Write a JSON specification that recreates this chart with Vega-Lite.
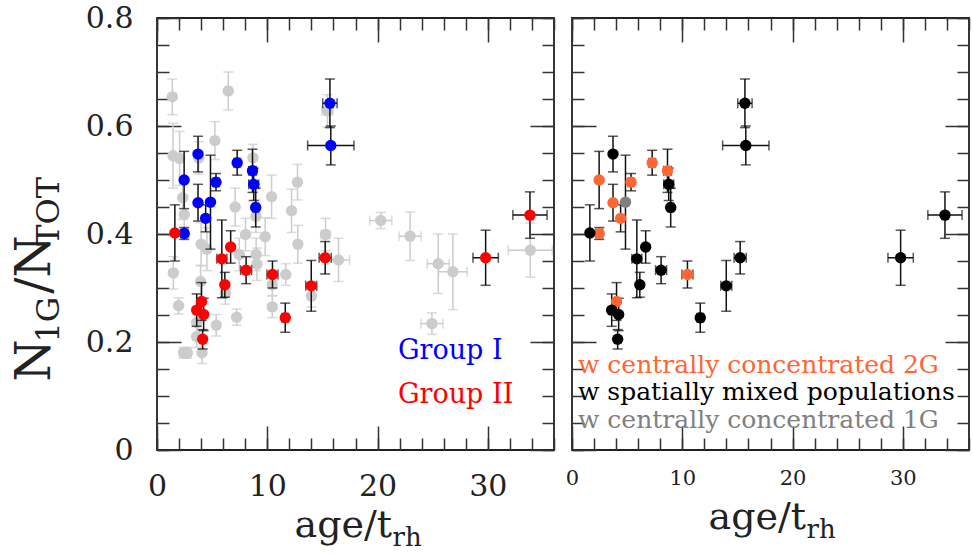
{
  "$schema": "https://vega.github.io/schema/vega-lite/v6.json",
  "background": "white",
  "padding": {"left": 10, "top": 2, "right": 5, "bottom": 5},
  "spacing": -4,
  "datasets": {
    "members": [
      {"age": 15.68, "age_err": 0.65, "ratio": 0.642, "ratio_err": 0.045, "group": "Group I", "dist": "w spatially mixed populations"},
      {"age": 15.76, "age_err": 2.1, "ratio": 0.564, "ratio_err": 0.036, "group": "Group I", "dist": "w spatially mixed populations"},
      {"age": 3.72, "age_err": 0, "ratio": 0.548, "ratio_err": 0.033, "group": "Group I", "dist": "w spatially mixed populations"},
      {"age": 7.27, "age_err": 0.3, "ratio": 0.532, "ratio_err": 0.023, "group": "Group I", "dist": "w centrally concentrated 2G"},
      {"age": 8.66, "age_err": 0.35, "ratio": 0.517, "ratio_err": 0.04, "group": "Group I", "dist": "w centrally concentrated 2G"},
      {"age": 2.46, "age_err": 0, "ratio": 0.5, "ratio_err": 0.053, "group": "Group I", "dist": "w centrally concentrated 2G"},
      {"age": 5.35, "age_err": 0.25, "ratio": 0.496, "ratio_err": 0.016, "group": "Group I", "dist": "w centrally concentrated 2G"},
      {"age": 8.77, "age_err": 0.45, "ratio": 0.492, "ratio_err": 0.03, "group": "Group I", "dist": "w spatially mixed populations"},
      {"age": 3.72, "age_err": 0, "ratio": 0.458, "ratio_err": 0.034, "group": "Group I", "dist": "w centrally concentrated 2G"},
      {"age": 4.85, "age_err": 0, "ratio": 0.459, "ratio_err": 0.087, "group": "Group I", "dist": "w centrally concentrated 1G"},
      {"age": 8.95, "age_err": 0.25, "ratio": 0.449, "ratio_err": 0.036, "group": "Group I", "dist": "w spatially mixed populations"},
      {"age": 4.41, "age_err": 0, "ratio": 0.429, "ratio_err": 0.025, "group": "Group I", "dist": "w centrally concentrated 2G"},
      {"age": 2.47, "age_err": 0.3, "ratio": 0.401, "ratio_err": 0.011, "group": "Group I", "dist": "w centrally concentrated 2G"},
      {"age": 1.62, "age_err": 0, "ratio": 0.402, "ratio_err": 0.052, "group": "Group II", "dist": "w spatially mixed populations"},
      {"age": 6.68, "age_err": 0, "ratio": 0.376, "ratio_err": 0.03, "group": "Group II", "dist": "w spatially mixed populations"},
      {"age": 5.88, "age_err": 0.45, "ratio": 0.354, "ratio_err": 0.072, "group": "Group II", "dist": "w spatially mixed populations"},
      {"age": 8.08, "age_err": 0.5, "ratio": 0.333, "ratio_err": 0.025, "group": "Group II", "dist": "w spatially mixed populations"},
      {"age": 10.47, "age_err": 0.5, "ratio": 0.325, "ratio_err": 0.025, "group": "Group II", "dist": "w centrally concentrated 2G"},
      {"age": 15.25, "age_err": 0.55, "ratio": 0.356, "ratio_err": 0.03, "group": "Group II", "dist": "w spatially mixed populations"},
      {"age": 6.15, "age_err": 0, "ratio": 0.306, "ratio_err": 0.023, "group": "Group II", "dist": "w spatially mixed populations"},
      {"age": 13.99, "age_err": 0.5, "ratio": 0.304, "ratio_err": 0.047, "group": "Group II", "dist": "w spatially mixed populations"},
      {"age": 4.04, "age_err": 0, "ratio": 0.275, "ratio_err": 0.035, "group": "Group II", "dist": "w centrally concentrated 2G"},
      {"age": 3.6, "age_err": 0, "ratio": 0.259, "ratio_err": 0.03, "group": "Group II", "dist": "w spatially mixed populations"},
      {"age": 4.23, "age_err": 0, "ratio": 0.251, "ratio_err": 0.03, "group": "Group II", "dist": "w spatially mixed populations"},
      {"age": 4.14, "age_err": 0, "ratio": 0.205, "ratio_err": 0.018, "group": "Group II", "dist": "w spatially mixed populations"},
      {"age": 11.63, "age_err": 0.3, "ratio": 0.245, "ratio_err": 0.027, "group": "Group II", "dist": "w spatially mixed populations"},
      {"age": 29.8, "age_err": 1.15, "ratio": 0.356, "ratio_err": 0.051, "group": "Group II", "dist": "w spatially mixed populations"},
      {"age": 33.82, "age_err": 1.55, "ratio": 0.435, "ratio_err": 0.043, "group": "Group II", "dist": "w spatially mixed populations"}
    ],
    "others": [
      {"age": 1.39, "age_err": 0, "ratio": 0.654, "ratio_err": 0.033},
      {"age": 6.46, "age_err": 0, "ratio": 0.665, "ratio_err": 0.035},
      {"age": 1.45, "age_err": 0, "ratio": 0.545, "ratio_err": 0.06},
      {"age": 2.05, "age_err": 0, "ratio": 0.54, "ratio_err": 0.05},
      {"age": 5.25, "age_err": 0, "ratio": 0.573, "ratio_err": 0.035},
      {"age": 3.78, "age_err": 0, "ratio": 0.541, "ratio_err": 0.03},
      {"age": 8.7, "age_err": 0, "ratio": 0.541, "ratio_err": 0.025},
      {"age": 15.46, "age_err": 0.5, "ratio": 0.628, "ratio_err": 0.03},
      {"age": 2.33, "age_err": 0, "ratio": 0.467, "ratio_err": 0.04},
      {"age": 2.47, "age_err": 0, "ratio": 0.436, "ratio_err": 0.035},
      {"age": 7.09, "age_err": 0, "ratio": 0.45, "ratio_err": 0.035},
      {"age": 10.39, "age_err": 0, "ratio": 0.469, "ratio_err": 0.04},
      {"age": 12.2, "age_err": 0, "ratio": 0.443, "ratio_err": 0.04},
      {"age": 12.74, "age_err": 0, "ratio": 0.496, "ratio_err": 0.033},
      {"age": 15.28, "age_err": 0.4, "ratio": 0.399, "ratio_err": 0.03},
      {"age": 16.46, "age_err": 1.0, "ratio": 0.352, "ratio_err": 0.04},
      {"age": 4.0, "age_err": 0, "ratio": 0.381, "ratio_err": 0.04},
      {"age": 4.53, "age_err": 0, "ratio": 0.372, "ratio_err": 0.04},
      {"age": 8.03, "age_err": 0, "ratio": 0.399, "ratio_err": 0.03},
      {"age": 9.81, "age_err": 0, "ratio": 0.395, "ratio_err": 0.035},
      {"age": 8.99, "age_err": 0, "ratio": 0.362, "ratio_err": 0.03},
      {"age": 9.06, "age_err": 0, "ratio": 0.344, "ratio_err": 0.03},
      {"age": 12.77, "age_err": 0, "ratio": 0.381, "ratio_err": 0.035},
      {"age": 8.97, "age_err": 0, "ratio": 0.433, "ratio_err": 0.03},
      {"age": 1.48, "age_err": 0, "ratio": 0.328, "ratio_err": 0.03},
      {"age": 1.96, "age_err": 0, "ratio": 0.267, "ratio_err": 0.015},
      {"age": 2.4, "age_err": 0.3, "ratio": 0.18, "ratio_err": 0.01},
      {"age": 2.75, "age_err": 0.3, "ratio": 0.18, "ratio_err": 0.01},
      {"age": 3.95, "age_err": 0, "ratio": 0.312, "ratio_err": 0.03},
      {"age": 3.6, "age_err": 0, "ratio": 0.236, "ratio_err": 0.025},
      {"age": 3.6, "age_err": 0, "ratio": 0.21, "ratio_err": 0.02},
      {"age": 4.08, "age_err": 0, "ratio": 0.18, "ratio_err": 0.02},
      {"age": 5.37, "age_err": 0, "ratio": 0.231, "ratio_err": 0.02},
      {"age": 7.22, "age_err": 0, "ratio": 0.246, "ratio_err": 0.015},
      {"age": 10.45, "age_err": 0, "ratio": 0.306, "ratio_err": 0.02},
      {"age": 10.45, "age_err": 0, "ratio": 0.265, "ratio_err": 0.02},
      {"age": 11.68, "age_err": 0, "ratio": 0.325, "ratio_err": 0.02},
      {"age": 14.0, "age_err": 0, "ratio": 0.285, "ratio_err": 0.02},
      {"age": 7.46, "age_err": 0, "ratio": 0.362, "ratio_err": 0.03},
      {"age": 6.2, "age_err": 0, "ratio": 0.29, "ratio_err": 0.02},
      {"age": 20.29, "age_err": 1.0, "ratio": 0.425, "ratio_err": 0.015},
      {"age": 22.95, "age_err": 1.0, "ratio": 0.396, "ratio_err": 0.045},
      {"age": 25.5, "age_err": 1.0, "ratio": 0.345, "ratio_err": 0.055},
      {"age": 26.83, "age_err": 1.3, "ratio": 0.33, "ratio_err": 0.07},
      {"age": 24.93, "age_err": 1.0, "ratio": 0.234, "ratio_err": 0.02},
      {"age": 33.85, "age_err": 2.0, "ratio": 0.37, "ratio_err": 0.05}
    ]
  },
  "resolve": {"scale": {"color": "independent"}, "legend": {"color": "independent"}},
  "hconcat": [
    {
      "width": 397,
      "height": 432,
      "resolve": {"axis": {"x": "independent", "y": "independent"}},
      "layer": [
        {
          "data": {"name": "others"},
          "mark": {"type": "errorbar", "ticks": true, "size": 10, "thickness": 1.5, "color": "#cccccc"},
          "encoding": {
            "x": {"field": "age", "type": "quantitative", "scale": {"domain": [0, 36], "nice": false, "zero": false},
              "axis": {"orient": "top", "values": [0, 10, 20, 30], "tickSize": -24, "labels": false, "title": null}},
            "y": {"field": "ratio", "type": "quantitative", "scale": {"domain": [0, 0.8], "nice": false},
              "axis": {"orient": "left", "values": [0, 0.05, 0.1, 0.15, 0.2, 0.25, 0.3, 0.35, 0.4, 0.45, 0.5, 0.55, 0.6, 0.65, 0.7, 0.75, 0.8], "tickSize": -12, "labels": false,
                "title": "1G\u00a0\u00a0\u00a0\u00a0\u00a0TOT", "titleFontSize": 32, "titleAngle": 270, "titleAlign": "left", "titleBaseline": "alphabetic", "titleX": -99, "titleY": 324}},
            "yError": {"field": "ratio_err"}
          }
        },
        {
          "data": {"name": "others"},
          "transform": [{"filter": "datum.age_err > 0"}],
          "mark": {"type": "errorbar", "ticks": true, "size": 10, "thickness": 1.5, "color": "#cccccc"},
          "encoding": {
            "x": {"field": "age", "type": "quantitative", "scale": {"domain": [0, 36], "nice": false, "zero": false},
              "axis": {"orient": "top", "values": [0, 2, 4, 6, 8, 10, 12, 14, 16, 18, 20, 22, 24, 26, 28, 30, 32, 34, 36], "tickSize": -12, "labels": false, "title": null}},
            "xError": {"field": "age_err"},
            "y": {"field": "ratio", "type": "quantitative", "scale": {"domain": [0, 0.8], "nice": false},
              "axis": {"orient": "right", "values": [0, 0.2, 0.4, 0.6, 0.8], "tickSize": -24, "labels": false, "title": null}}
          }
        },
        {
          "data": {"name": "others"},
          "mark": {"type": "circle", "size": 130, "opacity": 1, "color": "#cccccc"},
          "encoding": {
            "x": {"field": "age", "type": "quantitative", "scale": {"domain": [0, 36], "nice": false, "zero": false},
              "axis": {"orient": "bottom", "values": [0, 2, 4, 6, 8, 10, 12, 14, 16, 18, 20, 22, 24, 26, 28, 30, 32, 34, 36], "tickSize": -12, "labels": false,
                "title": "rh", "titleFontSize": 26, "titleAlign": "left", "titleBaseline": "alphabetic", "titleAngle": 0, "titleX": 235, "titleY": 95}},
            "y": {"field": "ratio", "type": "quantitative", "scale": {"domain": [0, 0.8], "nice": false},
              "axis": {"orient": "right", "values": [0, 0.05, 0.1, 0.15, 0.2, 0.25, 0.3, 0.35, 0.4, 0.45, 0.5, 0.55, 0.6, 0.65, 0.7, 0.75, 0.8], "tickSize": -12, "labels": false, "title": null}}
          }
        },
        {
          "data": {"name": "members"},
          "mark": {"type": "errorbar", "ticks": true, "size": 10, "thickness": 1.5, "color": "#111111"},
          "encoding": {
            "x": {"field": "age", "type": "quantitative", "scale": {"domain": [0, 36], "nice": false, "zero": false}, "axis": null},
            "y": {"field": "ratio", "type": "quantitative", "scale": {"domain": [0, 0.8], "nice": false}, "axis": null},
            "yError": {"field": "ratio_err"}
          }
        },
        {
          "data": {"name": "members"},
          "transform": [{"filter": "datum.age_err > 0"}],
          "mark": {"type": "errorbar", "ticks": true, "size": 10, "thickness": 1.5, "color": "#111111"},
          "encoding": {
            "x": {"field": "age", "type": "quantitative", "scale": {"domain": [0, 36], "nice": false, "zero": false}, "axis": null},
            "xError": {"field": "age_err"},
            "y": {"field": "ratio", "type": "quantitative", "scale": {"domain": [0, 0.8], "nice": false}, "axis": null}
          }
        },
        {
          "data": {"name": "members"},
          "mark": {"type": "circle", "size": 130, "opacity": 1},
          "encoding": {
            "x": {"field": "age", "type": "quantitative", "scale": {"domain": [0, 36], "nice": false, "zero": false},
              "axis": {"orient": "bottom", "values": [0, 10, 20, 30], "tickSize": -24, "labels": true, "labelFontSize": 30, "labelPadding": 45,
                "title": "age/t", "titleFontSize": 38, "titleAlign": "left", "titleBaseline": "alphabetic", "titleAngle": 0, "titleX": 137, "titleY": 86}},
            "y": {"field": "ratio", "type": "quantitative", "scale": {"domain": [0, 0.8], "nice": false},
              "axis": {"orient": "left", "values": [0, 0.2, 0.4, 0.6, 0.8], "format": "~g", "tickSize": -24, "labels": true, "labelFontSize": 30, "labelPadding": 48,
                "title": "N\u00a0\u00a0\u00a0/N", "titleFontSize": 48, "titleAngle": 270, "titleAlign": "left", "titleBaseline": "alphabetic", "titleX": -108, "titleY": 363}},
            "color": {"field": "group", "type": "nominal",
              "scale": {"domain": ["Group I", "Group II"], "range": ["#0000ff", "#ff0000"]},
              "legend": {"title": null, "orient": "none", "direction": "vertical", "legendX": 214, "legendY": 319, "padding": 0,
                "symbolOpacity": 0, "symbolSize": 0, "labelOffset": 0, "labelFont": "DejaVu Serif", "labelFontSize": 27, "rowPadding": 16, "labelLimit": 1000,
                "encode": {"labels": {"update": {"fill": {"signal": "datum.value === 'Group I' ? '#0000ff' : '#ff0000'"}}}}}}
          }
        }
      ]
    },
    {
      "width": 397,
      "height": 432,
      "resolve": {"axis": {"x": "independent", "y": "independent"}},
      "layer": [
        {
          "data": {"name": "members"},
          "transform": [{"filter": "indexof(datum.dist, 'mixed') < 0"}],
          "mark": {"type": "errorbar", "ticks": true, "size": 10, "thickness": 1.5, "color": "#111111"},
          "encoding": {
            "x": {"field": "age", "type": "quantitative", "scale": {"domain": [0, 36], "nice": false, "zero": false},
              "axis": {"orient": "top", "values": [0, 10, 20, 30], "tickSize": -24, "labels": false, "title": null}},
            "y": {"field": "ratio", "type": "quantitative", "scale": {"domain": [0, 0.8], "nice": false},
              "axis": {"orient": "left", "values": [0, 0.05, 0.1, 0.15, 0.2, 0.25, 0.3, 0.35, 0.4, 0.45, 0.5, 0.55, 0.6, 0.65, 0.7, 0.75, 0.8], "tickSize": -12, "labels": false, "title": null}},
            "yError": {"field": "ratio_err"}
          }
        },
        {
          "data": {"name": "members"},
          "transform": [{"filter": "indexof(datum.dist, 'mixed') >= 0"}],
          "mark": {"type": "errorbar", "ticks": true, "size": 10, "thickness": 1.5, "color": "#111111"},
          "encoding": {
            "x": {"field": "age", "type": "quantitative", "scale": {"domain": [0, 36], "nice": false, "zero": false},
              "axis": {"orient": "top", "values": [0, 2, 4, 6, 8, 10, 12, 14, 16, 18, 20, 22, 24, 26, 28, 30, 32, 34, 36], "tickSize": -12, "labels": false, "title": null}},
            "y": {"field": "ratio", "type": "quantitative", "scale": {"domain": [0, 0.8], "nice": false},
              "axis": {"orient": "right", "values": [0, 0.2, 0.4, 0.6, 0.8], "tickSize": -24, "labels": false, "title": null}},
            "yError": {"field": "ratio_err"}
          }
        },
        {
          "data": {"name": "members"},
          "transform": [{"filter": "indexof(datum.dist, 'mixed') < 0 && datum.age_err > 0"}],
          "mark": {"type": "errorbar", "ticks": true, "size": 10, "thickness": 1.5, "color": "#111111"},
          "encoding": {
            "x": {"field": "age", "type": "quantitative", "scale": {"domain": [0, 36], "nice": false, "zero": false},
              "axis": {"orient": "bottom", "values": [0, 2, 4, 6, 8, 10, 12, 14, 16, 18, 20, 22, 24, 26, 28, 30, 32, 34, 36], "tickSize": -12, "labels": false,
                "title": "rh", "titleFontSize": 26, "titleAlign": "left", "titleBaseline": "alphabetic", "titleAngle": 0, "titleX": 234, "titleY": 87}},
            "xError": {"field": "age_err"},
            "y": {"field": "ratio", "type": "quantitative", "scale": {"domain": [0, 0.8], "nice": false},
              "axis": {"orient": "right", "values": [0, 0.05, 0.1, 0.15, 0.2, 0.25, 0.3, 0.35, 0.4, 0.45, 0.5, 0.55, 0.6, 0.65, 0.7, 0.75, 0.8], "tickSize": -12, "labels": false, "title": null}}
          }
        },
        {
          "data": {"name": "members"},
          "transform": [{"filter": "indexof(datum.dist, 'mixed') >= 0 && datum.age_err > 0"}],
          "mark": {"type": "errorbar", "ticks": true, "size": 10, "thickness": 1.5, "color": "#111111"},
          "encoding": {
            "x": {"field": "age", "type": "quantitative", "scale": {"domain": [0, 36], "nice": false, "zero": false}, "axis": null},
            "xError": {"field": "age_err"},
            "y": {"field": "ratio", "type": "quantitative", "scale": {"domain": [0, 0.8], "nice": false}, "axis": null}
          }
        },
        {
          "data": {"name": "members"},
          "mark": {"type": "circle", "size": 130, "opacity": 1},
          "encoding": {
            "x": {"field": "age", "type": "quantitative", "scale": {"domain": [0, 36], "nice": false, "zero": false},
              "axis": {"orient": "bottom", "values": [0, 10, 20, 30], "tickSize": -24, "labels": true, "labelFontSize": 21, "labelPadding": 41,
                "title": "age/t", "titleFontSize": 38, "titleAlign": "left", "titleBaseline": "alphabetic", "titleAngle": 0, "titleX": 136, "titleY": 78}},
            "y": {"field": "ratio", "type": "quantitative", "scale": {"domain": [0, 0.8], "nice": false},
              "axis": {"orient": "left", "values": [0, 0.2, 0.4, 0.6, 0.8], "tickSize": -24, "labels": false, "title": null}},
            "color": {"field": "dist", "type": "nominal",
              "scale": {"domain": ["w centrally concentrated 2G", "w spatially mixed populations", "w centrally concentrated 1G"], "range": ["#ff6633", "#000000", "#808080"]},
              "legend": {"title": null, "orient": "none", "direction": "vertical", "legendX": -19, "legendY": 334, "padding": 0,
                "symbolOpacity": 0, "symbolSize": 0, "labelOffset": 0, "labelFont": "DejaVu Serif", "labelFontSize": 25, "rowPadding": 1.5, "labelLimit": 1000,
                "encode": {"labels": {"update": {"fill": {"signal": "indexof(datum.value, '2G') >= 0 ? '#ff6633' : (indexof(datum.value, '1G') >= 0 ? '#808080' : '#000000')"}}}}}}
          }
        }
      ]
    }
  ],
  "config": {
    "view": {"stroke": "#222222", "strokeWidth": 1.8},
    "font": "DejaVu Serif",
    "axis": {"domain": false, "grid": false, "zindex": 1, "labelFlush": false, "tickColor": "#333333", "tickWidth": 1.5, "labelFont": "DejaVu Serif", "titleFont": "DejaVu Serif", "labelColor": "#222222", "titleColor": "#222222", "titleFontWeight": "normal"}
  }
}
